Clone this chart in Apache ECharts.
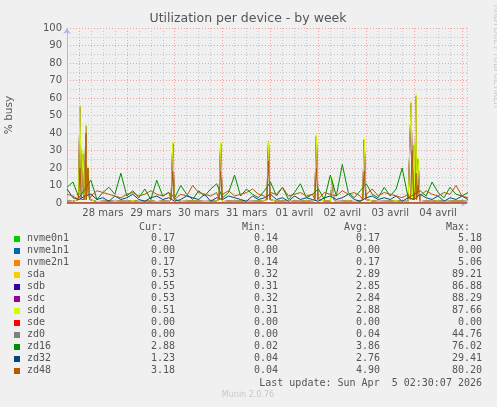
<!DOCTYPE html>
<html>
<head>
<meta charset="utf-8">
<title>Utilization per device - by week</title>
<script src="https://cdn.jsdelivr.net/npm/echarts@6/dist/echarts.min.js"></script>
<style>
  html, body { margin: 0; padding: 0; background: #f0f0f0; }
  #chart { width: 497px; height: 407px; }
</style>
</head>
<body>
<div id="chart"></div>
<script>
// x values are hours since 27 mars 00:00, sampled every 3h from 18h
var startHour = 18, stepHour = 3, endHour = 218.5;
var dayLabels = ['27 mars', '28 mars', '29 mars', '30 mars', '31 mars', '01 avril', '02 avril', '03 avril', '04 avril', '05 avril'];

var names = ['nvme0n1', 'nvme1n1', 'nvme2n1', 'sda', 'sdb', 'sdc', 'sdd', 'sde', 'zd0', 'zd16', 'zd32', 'zd48'];
var colors = ['#00cc00', '#0066b3', '#ff8000', '#ffcc00', '#330099', '#990099', '#ccff00', '#ff0000', '#808080', '#008f00', '#00487d', '#b35a00'];
var curVals = ['0.17', '0.00', '0.17', '0.53', '0.55', '0.53', '0.51', '0.00', '0.00', '2.88', '1.23', '3.18'];
var minVals = ['0.14', '0.00', '0.14', '0.32', '0.31', '0.32', '0.31', '0.00', '0.00', '0.02', '0.04', '0.04'];
var avgVals = ['0.17', '0.00', '0.17', '2.89', '2.85', '2.84', '2.88', '0.00', '0.04', '3.86', '2.76', '4.90'];
var maxVals = ['5.18', '0.00', '5.06', '89.21', '86.88', '88.29', '87.66', '0.00', '44.76', '76.02', '29.41', '80.20'];

// near-flat devices
var nvme0n1 = [0.17, 0.2, 0.15, 0.17, 0.18, 0.16, 0.17, 0.2, 0.17];
var nvme1n1 = [0, 0, 0, 0, 0, 0, 0, 0, 0];
var nvme2n1 = [0.17, 0.15, 0.2, 0.17, 0.16, 0.18, 0.17, 0.15, 0.17];
var sde = [0, 0, 0, 0, 0, 0, 0, 0, 0];
var zd0 = [0, 0, 0, 0, 0, 0, 0, 0, 0];

// busy devices, baseline every 3h
var sdaBase = [1.2, 0.9, 1.1, 1.0, 1.3, 0.8, 1.0, 1.2, 0.9, 1.1, 1.0, 1.4, 0.9, 1.0, 1.2, 0.8, 1.1, 1.0, 1.3, 0.9, 1.0, 1.2, 1.1, 0.9, 1.0, 1.3, 0.8, 1.1, 1.0, 1.2, 0.9, 1.0, 1.1, 1.4, 0.9, 1.0, 1.2, 0.8, 1.1, 1.0, 1.3, 0.9, 1.0, 1.2, 1.1, 0.9, 1.0, 1.3, 0.8, 1.1, 1.0, 1.2, 0.9, 1.0, 1.1, 1.4, 0.9, 1.0, 1.2, 0.8, 1.1, 1.0, 1.3, 0.9, 1.0, 1.2, 1.1, 0.9];
var sdaSpikes = [[24.5, 55], [26, 28], [27.5, 44], [28.5, 20], [71, 34], [95, 34], [119, 35], [143, 38], [151, 13], [167, 36], [190.5, 57], [192, 33], [193, 61], [194, 25]];
var sddSpikes = [[24.5, 56], [26, 30], [27.5, 45], [28.5, 21], [71, 35], [95, 35], [119, 35], [143, 39], [151, 14], [167, 37], [190.5, 58], [192, 34], [193, 62], [194, 26]];
var zd16Base = [9, 12, 3, 8, 13, 2, 6, 9, 5, 17, 4, 7, 3, 8, 2, 13, 4, 6, 3, 10, 5, 2, 7, 4, 8, 11, 3, 6, 16, 4, 8, 5, 3, 7, 12, 4, 9, 2, 6, 11, 3, 5, 8, 2, 16, 4, 22, 6, 3, 7, 11, 5, 3, 9, 4, 8, 20, 3, 5, 7, 4, 12, 6, 3, 9, 5, 4, 6];
var zd32Base = [8, 3, 2, 4, 5, 2, 3, 1, 4, 2, 3, 5, 2, 1, 3, 4, 2, 3, 1, 2, 4, 3, 2, 5, 1, 3, 2, 4, 3, 2, 1, 4, 2, 3, 5, 2, 3, 1, 4, 2, 3, 2, 1, 3, 4, 2, 3, 5, 2, 1, 3, 4, 2, 3, 2, 4, 1, 3, 2, 5, 3, 2, 4, 1, 3, 2, 4, 2];
var zd48Base = [5, 4, 6, 5, 4, 7, 6, 5, 4, 3, 5, 6, 4, 5, 7, 5, 4, 6, 3, 5, 4, 10, 6, 5, 4, 6, 5, 7, 4, 5, 6, 8, 5, 4, 6, 5, 9, 4, 5, 6, 4, 5, 3, 6, 5, 4, 7, 5, 6, 4, 5, 8, 4, 6, 5, 4, 3, 5, 6, 4, 7, 5, 4, 6, 5, 10, 4, 3];
var zd48Spikes = [[24.5, 20], [27.5, 40], [28.5, 20], [71, 18], [95, 18], [119, 24], [143, 20], [167, 18], [191, 30], [193, 17], [194, 10]];

function series3h(base, spikes) {
  var pts = base.map(function (v, i) { return [startHour + i * stepHour, v]; });
  (spikes || []).forEach(function (p) { pts.push([p[0] - 0.8, 2], p, [p[0] + 0.8, 2]); });
  pts.sort(function (a, b) { return a[0] - b[0]; });
  return pts;
}
function seriesFlat(vals) {
  var step = (endHour - startHour) / (vals.length - 1);
  return vals.map(function (v, i) { return [startHour + i * step, v]; });
}

var dataMap = {
  nvme0n1: seriesFlat(nvme0n1), nvme1n1: seriesFlat(nvme1n1), nvme2n1: seriesFlat(nvme2n1),
  sda: series3h(sdaBase, sdaSpikes), sdb: series3h(sdaBase, sdaSpikes), sdc: series3h(sdaBase, sdaSpikes),
  sdd: series3h(sdaBase, sddSpikes), sde: seriesFlat(sde), zd0: seriesFlat(zd0),
  zd16: series3h(zd16Base), zd32: series3h(zd32Base), zd48: series3h(zd48Base, zd48Spikes)
};

var midnights = [];
for (var h = 24; h < endHour; h += 24) midnights.push({ xAxis: h });

var series = names.map(function (n, i) {
  var s = {
    name: n, type: 'line', data: dataMap[n], showSymbol: false, symbol: 'none',
    lineStyle: { width: 1, color: colors[i] }, itemStyle: { color: colors[i] }, z: 3 + i
  };
  if (i === 0) {
    s.markLine = { silent: true, symbol: 'none', label: { show: false }, z: 1,
      lineStyle: { color: '#f2a0a0', type: [1, 2], width: 1 }, data: midnights };
  }
  return s;
});

// legend table as graphic text
var mono = 'DejaVu Sans Mono';
var g = [];
var colX = [175, 278, 380, 482];
['Cur:', 'Min:', 'Avg:', 'Max:'].forEach(function (t, i) {
  g.push({ type: 'text', x: colX[i] - 12, y: 222, style: { text: t, font: '10px ' + mono, fill: '#555', align: 'right' } });
});
names.forEach(function (n, i) {
  var y = 239 + i * 12;
  g.push({ type: 'rect', shape: { x: 14, y: y - 3, width: 6, height: 6 }, style: { fill: colors[i] } });
  g.push({ type: 'text', x: 27, y: y - 6, style: { text: n, font: '10px ' + mono, fill: '#555' } });
  [curVals, minVals, avgVals, maxVals].forEach(function (arr, k) {
    g.push({ type: 'text', x: colX[k], y: y - 6, style: { text: arr[i], font: '10px ' + mono, fill: '#555', align: 'right' } });
  });
});
g.push({ type: 'text', x: 482, y: 378, style: { text: 'Last update: Sun Apr  5 02:30:07 2026', font: '10px ' + mono, fill: '#555', align: 'right' } });
g.push({ type: 'text', x: 248, y: 391, style: { text: 'Munin 2.0.76', font: '8px DejaVu Sans', fill: '#c8c8c8', align: 'center' } });
g.push({ type: 'text', x: 248, y: 12, style: { text: 'Utilization per device - by week', font: '12.5px DejaVu Sans', fill: '#555', align: 'center' } });
g.push({ type: 'text', x: 4, y: 115, rotation: Math.PI / 2, style: { text: '% busy', font: '10.5px DejaVu Sans', fill: '#555', align: 'center', verticalAlign: 'top' } });
g.push({ type: 'text', x: 492, y: 5, rotation: -Math.PI / 2, style: { text: 'RRDTOOL / TOBI OETIKER', font: '8px DejaVu Sans', fill: '#c8c8c8', align: 'left', verticalAlign: 'bottom' } });

var chart = echarts.init(document.getElementById('chart'));
chart.setOption({
  animation: false,
  backgroundColor: '#f0f0f0',
  grid: { left: 67, right: 30, top: 28, bottom: 204 },
  xAxis: {
    type: 'value', min: startHour, max: endHour, interval: 6,
    axisLine: { lineStyle: { color: '#b0b8f0' }, symbol: ['none', 'arrow'], symbolSize: [6, 6] },
    axisTick: { show: false },
    splitLine: { lineStyle: { color: '#c8c8c8', type: [1, 2] } },
    axisLabel: {
      color: '#555', fontSize: 10, fontFamily: 'DejaVu Sans', margin: 5, hideOverlap: false,
      showMinLabel: true, showMaxLabel: false,
      formatter: function (v) { return (v % 24 === 12) ? dayLabels[Math.floor(v / 24)] : ''; }
    }
  },
  yAxis: {
    type: 'value', min: 0, max: 100, interval: 10,
    axisLine: { show: true, lineStyle: { color: '#b0b8f0' }, symbol: ['none', 'arrow'], symbolSize: [6, 6] },
    axisTick: { show: false },
    axisLabel: { color: '#555', fontSize: 10, fontFamily: 'DejaVu Sans', margin: 5 },
    splitLine: { lineStyle: { color: '#f2a0a0', type: [1, 2] } },
    minorTick: { show: false, splitNumber: 2 },
    minorSplitLine: { show: true, lineStyle: { color: '#c8c8c8', type: [1, 2] } }
  },
  series: series,
  graphic: g
});
</script>
</body>
</html>
